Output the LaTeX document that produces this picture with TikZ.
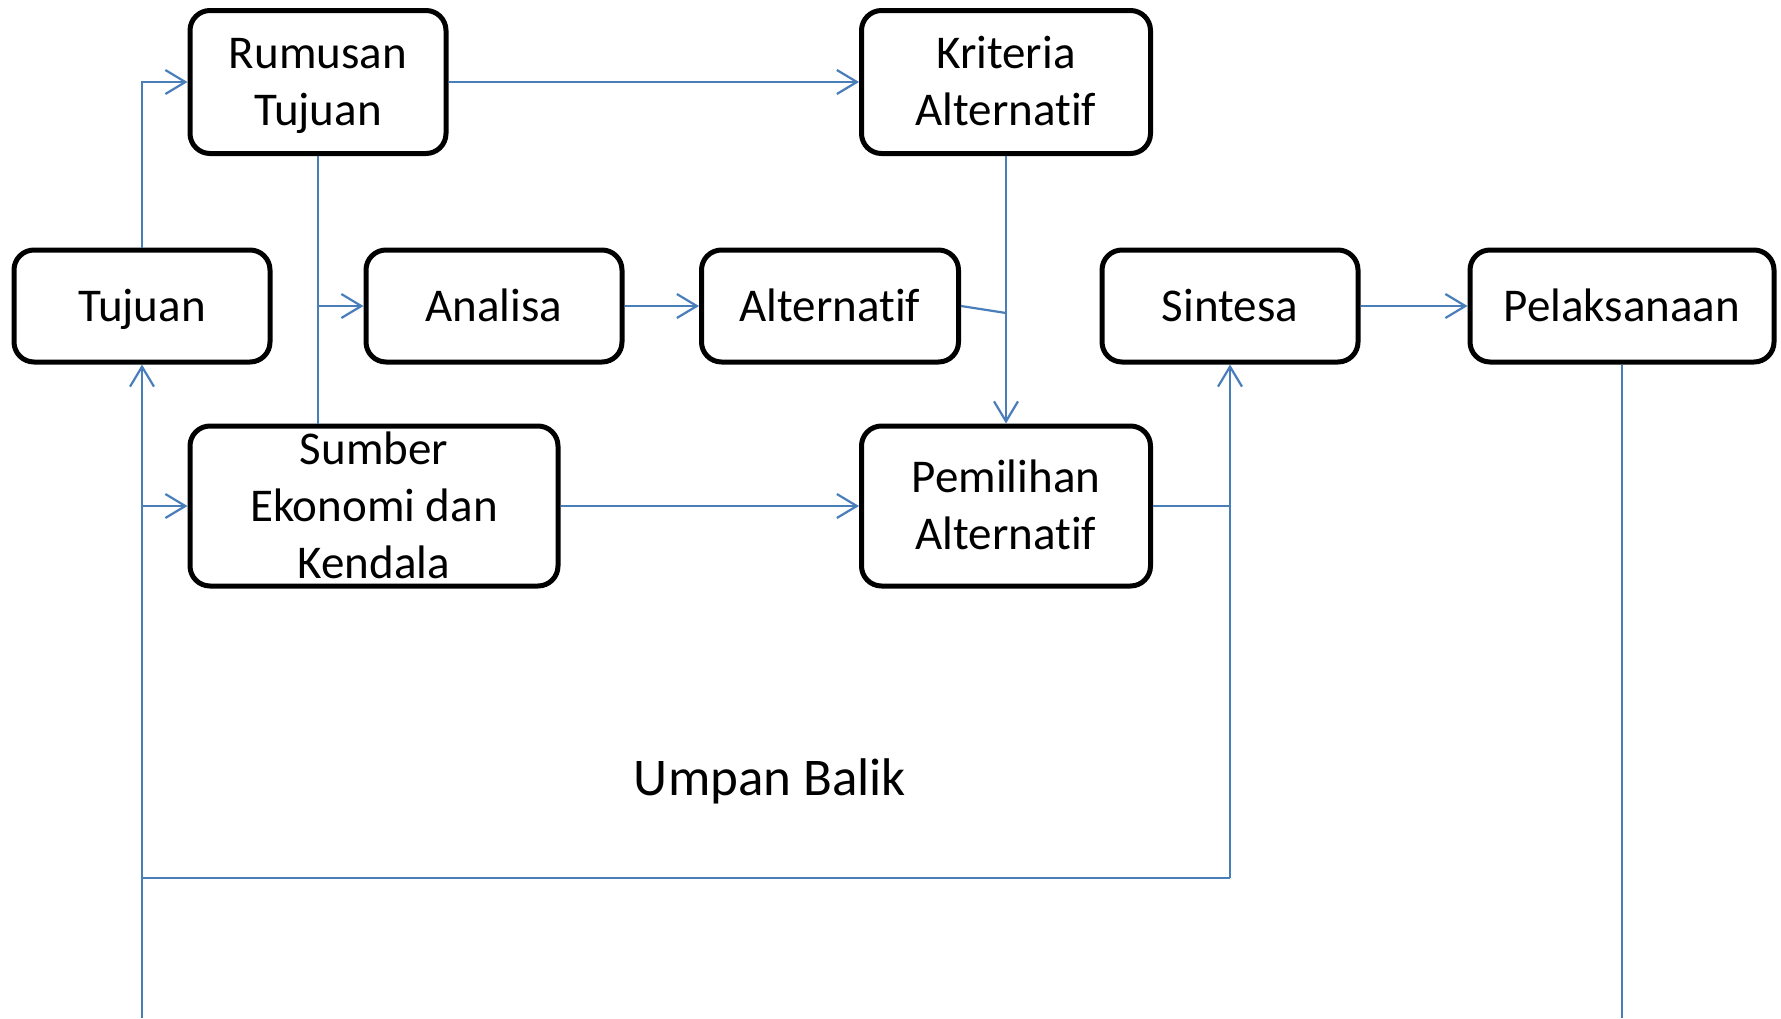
\documentclass[tikz,border=0pt]{standalone}
\usepackage{fontspec}
\setmainfont{Carlito}[Ligatures=NoCommon]
\usetikzlibrary{arrows.meta}
\definecolor{lineblue}{RGB}{74,126,187}
\newcommand{\ls}{\strut}
\begin{document}
\begin{tikzpicture}[x=1pt,y=-1pt,
  box/.style={draw=black, line width=5pt, rounded corners=20pt, inner sep=0pt},
  txt/.style={inner sep=0pt, align=center, font=\fontsize{47}{57}\selectfont},
  conn/.style={draw=lineblue, line width=2.2pt},
  arr/.style={conn, -{Straight Barb[length=20pt,width=24pt,line width=2.2pt]}}]
\useasboundingbox (0,0) rectangle (1781,1018);
\node[box, minimum width=256pt, minimum height=143pt] (rum) at (318,82) {};
\node[box, minimum width=289pt, minimum height=143pt] (kri) at (1006,82) {};
\node[box, minimum width=256pt, minimum height=112pt] (tuj) at (142,306) {};
\node[box, minimum width=256pt, minimum height=112pt] (ana) at (494,306) {};
\node[box, minimum width=257pt, minimum height=112pt] (alt) at (830,306) {};
\node[box, minimum width=256pt, minimum height=112pt] (sin) at (1230,306) {};
\node[box, minimum width=304pt, minimum height=112pt] (pel) at (1622,306) {};
\node[box, minimum width=368pt, minimum height=160pt] (sum) at (374,506) {};
\node[box, minimum width=289pt, minimum height=160pt] (pem) at (1006,506) {};
\node[txt] (rumT) at ([yshift=-4pt]rum.center) {Rumusan\ls\\Tujuan\ls};
\node[txt] (kriT) at ([yshift=-4pt]kri.center) {Kriteria\ls\\Alternatif\ls};
\node[txt] (tujT) at ([yshift=-4pt]tuj.center) {Tujuan\ls};
\node[txt] (anaT) at ([yshift=-4pt]ana.center) {Analisa\ls};
\node[txt] (altT) at ([yshift=-4pt]alt.center) {Alternatif\ls};
\node[txt] (sinT) at ([yshift=-4pt]sin.center) {Sintesa\ls};
\node[txt] (pelT) at ([yshift=-4pt]pel.center) {Pelaksanaan\ls};
\node[txt] (sumT) at ([yshift=-4pt]sum.center) {Sumber\ls\\Ekonomi dan\ls\\Kendala\ls};
\node[txt] (pemT) at ([yshift=-4pt]pem.center) {Pemilihan\ls\\Alternatif\ls};
\node[txt, font=\fontsize{53}{64}\selectfont] (umpan) at (770,783) {Umpan Balik\ls};
\coordinate (bl) at (142,1018);
\coordinate (fbR) at (1230,878);
\coordinate (pelEnd) at (1622,1018);
\coordinate (join) at (1006,313);
\draw[arr] (tuj.north) |- (rum.west);
\draw[arr] (rum.east) -- (kri.west);
\draw[conn] (rum.south) -- (rum.south |- sum.north);
\draw[arr] (rum.south |- ana.west) -- (ana.west);
\draw[arr] (ana.east) -- (alt.west);
\draw[conn] (alt.east) -- (join);
\draw[arr] (kri.south) -- (pem.north);
\draw[arr] (sum.east) -- (pem.west);
\draw[conn] (pem.east) -- (pem.east -| fbR);
\draw[arr] (bl) -- (tuj.south);
\draw[arr] (bl |- sum.west) -- (sum.west);
\draw[conn] (bl |- fbR) -- (fbR);
\draw[arr] (fbR) -- (sin.south);
\draw[arr] (sin.east) -- (pel.west);
\draw[conn] (pel.south) -- (pelEnd);
\end{tikzpicture}
\end{document}
